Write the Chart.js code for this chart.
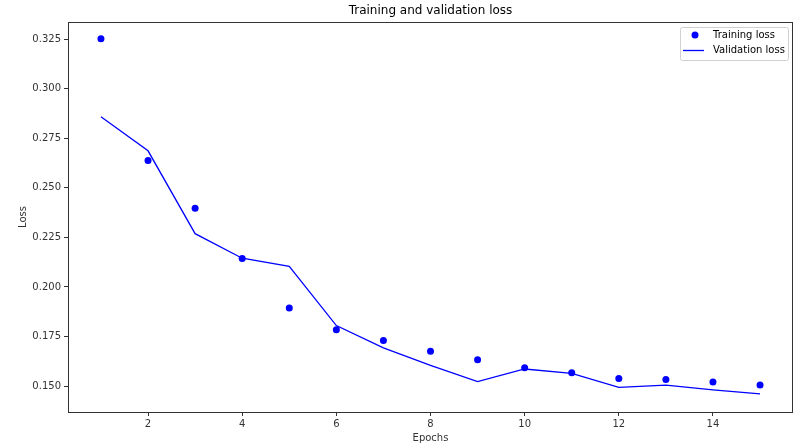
<!DOCTYPE html>
<html>
<head>
<meta charset="utf-8">
<script src="https://cdn.jsdelivr.net/npm/chart.js@4"></script>
<style>
  html, body { margin: 0; padding: 0; background: #fff; }
  #wrap { width: 798px; height: 445px; }
</style>
</head>
<body>
<div id="wrap"><canvas id="loss-chart" width="798" height="445"></canvas></div>
<script>
var epochs = [1, 2, 3, 4, 5, 6, 7, 8, 9, 10, 11, 12, 13, 14, 15];
var trainingLoss = [0.3253, 0.2638, 0.2397, 0.2143, 0.1894, 0.1784, 0.1730, 0.1675, 0.1633, 0.1592, 0.1567, 0.1538, 0.1533, 0.1520, 0.1505];
var validationLoss = [0.2859, 0.2687, 0.2269, 0.2145, 0.2104, 0.1805, 0.1693, 0.1604, 0.1522, 0.1586, 0.1564, 0.1493, 0.1505, 0.1481, 0.1460];
var xTicks = [2, 4, 6, 8, 10, 12, 14];
var yTicks = [0.150, 0.175, 0.200, 0.225, 0.250, 0.275, 0.300, 0.325];

var FONT = "'DejaVu Sans', sans-serif";
var AXIS_COLOR = "#333";

function points(values) {
    return epochs.map((e, i) => ({x: e, y: values[i]}));
}

// full box round the plot, title over the plot, legend in the top right corner
var mplDecor = {
    id: "mplDecor",
    afterDraw: function(chart) {
        var ctx = chart.ctx, a = chart.chartArea;
        ctx.save();
        ctx.strokeStyle = AXIS_COLOR;
        ctx.lineWidth = 1;
        ctx.strokeRect(a.left + 0.5, a.top + 0.5, a.right - a.left - 1, a.bottom - a.top);

        ctx.fillStyle = "#000";
        ctx.font = "12px " + FONT;
        ctx.textAlign = "center";
        ctx.textBaseline = "middle";
        ctx.fillText("Training and validation loss", (a.left + a.right) / 2, 11);

        var bx = a.right - 113, by = a.top + 5, bw = 108, bh = 33;
        ctx.fillStyle = "rgba(255,255,255,0.8)";
        ctx.strokeStyle = "#d0d0d0";
        ctx.beginPath();
        ctx.roundRect(bx + 0.5, by + 0.5, bw, bh, 2);
        ctx.fill();
        ctx.stroke();

        var ds = chart.data.datasets;
        ctx.fillStyle = "blue";
        ctx.beginPath();
        ctx.arc(bx + 15, by + 8, 3.5, 0, Math.PI * 2);
        ctx.fill();
        ctx.strokeStyle = "blue";
        ctx.lineWidth = 1.3;
        ctx.beginPath();
        ctx.moveTo(bx + 3, by + 23.5);
        ctx.lineTo(bx + 24, by + 23.5);
        ctx.stroke();

        ctx.fillStyle = "#000";
        ctx.font = "10px " + FONT;
        ctx.textAlign = "left";
        ctx.fillText(ds[0].label, bx + 33, by + 8);
        ctx.fillText(ds[1].label, bx + 33, by + 23.5);
        ctx.restore();
    }
};

new Chart(document.getElementById("loss-chart").getContext("2d"), {
    type: "line",
    data: {
        datasets: [
            {
                label: "Training loss",
                data: points(trainingLoss),
                showLine: false,
                pointRadius: 3.5,
                pointBackgroundColor: "blue",
                pointBorderWidth: 0,
                borderColor: "blue"
            },
            {
                label: "Validation loss",
                data: points(validationLoss),
                borderColor: "blue",
                borderWidth: 1.3,
                pointRadius: 0,
                tension: 0,
                fill: false
            }
        ]
    },
    options: {
        responsive: false,
        animation: false,
        layout: {padding: {top: 22, right: 5, bottom: 0, left: 0}},
        plugins: {
            legend: {display: false},
            title: {display: false},
            tooltip: {enabled: false}
        },
        scales: {
            x: {
                type: "linear",
                min: 0.3,
                max: 15.7,
                afterBuildTicks: function(scale) { scale.ticks = xTicks.map(v => ({value: v})); },
                afterFit: function(scale) { scale.height = 33; },
                ticks: {color: AXIS_COLOR, font: {family: FONT, size: 10}, padding: 2, maxRotation: 0},
                grid: {display: true, drawOnChartArea: false, tickLength: 4, color: AXIS_COLOR},
                border: {display: false},
                title: {display: true, text: "Epochs", color: AXIS_COLOR, font: {family: FONT, size: 10}, padding: {top: 0, bottom: 1}}
            },
            y: {
                type: "linear",
                min: 0.1369,
                max: 0.3337,
                afterBuildTicks: function(scale) { scale.ticks = yTicks.map(v => ({value: v})); },
                afterFit: function(scale) { scale.width = 68; },
                ticks: {color: AXIS_COLOR, font: {family: FONT, size: 10}, padding: 3, callback: v => v.toFixed(3)},
                grid: {display: true, drawOnChartArea: false, tickLength: 4, color: AXIS_COLOR},
                border: {display: false},
                title: {display: true, text: "Loss", color: AXIS_COLOR, font: {family: FONT, size: 10}, padding: {top: 17, bottom: 0}}
            }
        }
    },
    plugins: [mplDecor]
});
</script>
</body>
</html>
